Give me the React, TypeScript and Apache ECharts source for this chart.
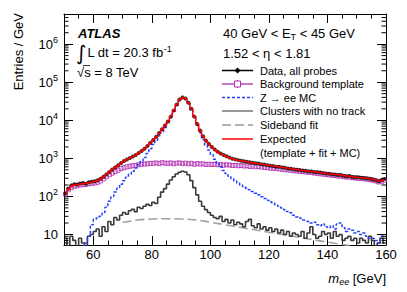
import React, { useEffect, useRef } from "react";
import * as echarts from "echarts";

// ---- data (entries / GeV), 1 GeV bins from 50 to 160 GeV ----
const binLow = 50;
const binCount = 110;
const binCenters = Array.from({ length: binCount }, (_, i) => binLow + 0.5 + i);

const dataValues = [
  120, 160, 195, 210, 205, 220, 225, 215, 235, 245,
  250, 265, 290, 330, 380, 440, 510, 580, 660, 760,
  850, 930, 1020, 1120, 1230, 1380, 1560, 1780, 2100, 2550,
  3050, 3700, 4650, 5800, 7300, 9300, 12500, 18000, 26000, 35000,
  40000, 37500, 29000, 20000, 12500, 8000, 5400, 3800, 2900, 2400,
  2000, 1700, 1500, 1350, 1230, 1130, 1050, 980, 940, 900,
  870, 840, 820, 790, 770, 740, 730, 705, 690, 665,
  640, 630, 605, 600, 580, 565, 545, 535, 520, 500,
  495, 480, 475, 455, 455, 435, 430, 425, 410, 400,
  395, 380, 378, 365, 368, 350, 340, 342, 325, 320,
  318, 308, 305, 298, 290, 280, 265, 250, 268, 285,
];

const templateValues = [
  115, 150, 170, 185, 190, 200, 205, 205, 215, 220,
  225, 235, 255, 290, 330, 370, 410, 450, 490, 540,
  570, 600, 620, 640, 650, 680, 700, 710, 720, 740,
  740, 760, 730, 770, 750, 740, 760, 720, 750, 760,
  730, 750, 720, 740, 700, 730, 710, 720, 690, 700,
  690, 700, 680, 690, 660, 680, 670, 650, 660, 640,
  650, 630, 640, 610, 620, 600, 610, 590, 580, 570,
  555, 550, 540, 530, 520, 505, 500, 485, 475, 465,
  455, 450, 440, 430, 425, 410, 405, 395, 385, 375,
  370, 360, 355, 345, 340, 330, 325, 320, 310, 305,
  300, 295, 290, 285, 275, 270, 255, 240, 250, 265,
];

const zmcValues = [
  3, 3, 4, 3, 4, 4, 5, 6, 9, 18,
  25, 27, 30, 38, 52, 75, 100, 130, 165, 210,
  260, 320, 380, 460, 560, 680, 830, 1050, 1350, 1800,
  2300, 3000, 3900, 5000, 6500, 8500, 11800, 17200, 25000, 34000,
  39000, 36500, 28000, 19000, 11800, 7300, 4700, 3100, 2200, 1650,
  1250, 950, 740, 590, 480, 400, 340, 290, 255, 225,
  200, 180, 165, 150, 135, 122, 110, 98, 88, 80,
  72, 66, 60, 55, 50, 45, 40, 37, 32, 29,
  27, 24, 23, 22, 20, 21, 18, 17, 19, 16,
  15, 17, 14, 19, 20, 15, 12, 14, 13, 11,
  12, 10, 11, 9, 8, 8, 7, 6, 9, 10,
];

const clustersValues = [
  8, 5, 9, 7, 4, 8, 6, 3, 9, 10,
  12, 14, 9, 16, 12, 22, 18, 28, 24, 32,
  38, 34, 42, 46, 40, 52, 48, 55, 62, 58,
  70, 65, 95, 130, 160, 210, 270, 330, 390, 430,
  460, 440, 370, 260, 170, 110, 75, 55, 45, 38,
  32, 28, 26, 30, 22, 25, 20, 24, 18, 21,
  19, 16, 22, 25, 17, 15, 19, 14, 16, 13,
  15, 12, 14, 11, 13, 10, 12, 9, 11, 10,
  9, 12, 8, 11, 16, 10, 8, 9, 12, 10,
  11, 8, 12, 9, 10, 7, 8, 9, 7, 8,
  6, 8, 7, 6, 9, 7, 5, 6, 8, 6,
];

const expectedValues = [
  118, 155, 185, 200, 205, 212, 218, 222, 230, 240,
  250, 262, 285, 328, 382, 445, 510, 580, 655, 750,
  840, 930, 1020, 1120, 1230, 1380, 1560, 1790, 2100, 2560,
  3050, 3700, 4600, 5800, 7300, 9300, 12500, 18000, 26000, 35000,
  40000, 37000, 29000, 20000, 12500, 8000, 5400, 3800, 2900, 2370,
  1960, 1680, 1480, 1330, 1220, 1120, 1040, 975, 930, 885,
  865, 830, 815, 780, 765, 735, 725, 700, 683, 662,
  640, 628, 610, 597, 580, 562, 550, 533, 518, 503,
  490, 481, 471, 460, 452, 440, 431, 421, 411, 400,
  391, 383, 375, 369, 364, 352, 343, 339, 328, 321,
  316, 310, 305, 299, 289, 282, 267, 253, 264, 279,
];

const sidebandX = [70, 72, 75, 80, 85, 90, 95, 100, 105, 110, 120, 130, 140, 150, 160];
const sidebandY = [21, 22, 24, 25.5, 26, 25.5, 24, 21, 18, 15.5, 11.5, 8.5, 6.3, 4.7, 3.5];

// axis ranges
const xMin = 50;
const xMax = 160;
const yMin = 5.3;
const yMax = 6.2e6;

// log minor tick positions (2..9 x 10^k) inside the y range
const yMinorTicks: number[] = [];
for (let e = 0; e <= 6; e++) {
  for (let m = 2; m <= 9; m++) {
    const v = m * Math.pow(10, e);
    if (v > yMin && v < yMax) yMinorTicks.push(v);
  }
}

const FONT = "Liberation Sans, Arial, Helvetica, sans-serif";
const MAGENTA = "#b02cb0";
const BLUE = "#2540ff";
const RED = "#ff0000";

const pair = (ys: number[]) => ys.map((y, i) => [binCenters[i], y]);

export default function App() {
  const ref = useRef<HTMLDivElement>(null);

  useEffect(() => {
    if (!ref.current) return;
    const chart = echarts.init(ref.current, undefined, { renderer: "svg" });

    const supRich = {
      b: { fontSize: 13, fontFamily: FONT, color: "#000", lineHeight: 13 },
      s: { fontSize: 9, fontFamily: FONT, color: "#000", lineHeight: 9, padding: [0, 0, 8, 0] },
    };

    const yLabelFormatter = (v: number) => {
      const e = Math.round(Math.log10(v));
      return e === 1 ? "{b|10}" : `{b|10}{s|${e}}`;
    };

    const baseX = {
      type: "value",
      min: xMin,
      max: xMax,
      splitNumber: 5,
      splitLine: { show: false },
      axisLine: { show: true, onZero: false, lineStyle: { color: "#000", width: 1 } },
      axisTick: { show: true, inside: true, length: 9, lineStyle: { color: "#000", width: 1 } },
      minorTick: { show: true, splitNumber: 4, length: 4.5, lineStyle: { color: "#000", width: 1 } },
    };
    const baseY = {
      type: "log",
      logBase: 10,
      min: yMin,
      max: yMax,
      splitLine: { show: false },
      minorTick: { show: false },
      axisLine: { show: true, onZero: false, lineStyle: { color: "#000", width: 1 } },
      axisTick: { show: true, inside: true, length: 9, lineStyle: { color: "#000", width: 1 } },
    };

    const legendRows = [
      { y: 70.5, label: "Data, all probes" },
      { y: 84, label: "Background template" },
      { y: 97.5, label: "Z \u2192 ee MC" },
      { y: 111, label: "Clusters with no track" },
      { y: 125, label: "Sideband fit" },
      { y: 139, label: "Expected" },
      { y: 152.5, label: "(template + fit + MC)" },
    ];
    const lx1 = 222;
    const lx2 = 253;
    const lmid = (lx1 + lx2) / 2;
    const ltx = 260;

    const txt = (x: number, y: number, text: string, size: number, extra: any = {}) => ({
      type: "text",
      x,
      y,
      silent: true,
      style: {
        text,
        fontSize: size,
        fontFamily: FONT,
        fill: "#000",
        textAlign: "left",
        align: "left",
        textVerticalAlign: "middle",
        verticalAlign: "middle",
        ...extra,
      },
    });
    const seg = (y: number, stroke: string, lineWidth: number, lineDash?: number[]) => ({
      type: "line",
      silent: true,
      shape: { x1: lx1, y1: y, x2: lx2, y2: y },
      style: { stroke, lineWidth, lineDash },
    });

    const graphics: any[] = [
      // legend texts
      ...legendRows.map((r) => txt(ltx, r.y, r.label, 11)),
      seg(legendRows[0].y, "#000", 1.5),
      {
        type: "polygon",
        silent: true,
        shape: { points: [[lmid, 67.5], [lmid + 3, 70.5], [lmid, 73.5], [lmid - 3, 70.5]] },
        style: { fill: "#000" },
      },
      seg(legendRows[1].y, MAGENTA, 1.3),
      {
        type: "line",
        silent: true,
        shape: { x1: lmid, y1: 80, x2: lmid, y2: 88 },
        style: { stroke: MAGENTA, lineWidth: 1 },
      },
      {
        type: "rect",
        silent: true,
        shape: { x: lmid - 3, y: 81, width: 6, height: 6 },
        style: { fill: "#fff", stroke: MAGENTA, lineWidth: 1 },
      },
      seg(legendRows[2].y, BLUE, 1.5, [3, 2]),
      seg(legendRows[3].y, "#777", 1.5),
      seg(legendRows[4].y, "#999", 1.5, [9, 4]),
      seg(legendRows[5].y, RED, 1.5),
      // header texts
      {
        type: "text",
        x: 223,
        y: 33,
        silent: true,
        style: {
          text: "{n|40 GeV < E}{u|T}{n| < 45 GeV}",
          textAlign: "left",
          align: "left",
          textVerticalAlign: "middle",
          verticalAlign: "middle",
          rich: {
            n: { fontSize: 13, fontFamily: FONT, fill: "#000", lineHeight: 13 },
            u: { fontSize: 9, fontFamily: FONT, fill: "#000", lineHeight: 9, padding: [8, 0, 0, 0] },
          },
        },
      },
      txt(223, 53, "1.52 < \u03b7 < 1.81", 13),
      // ATLAS block
      txt(78, 33, "ATLAS", 13, { fontWeight: "bold", fontStyle: "italic" }),
      {
        type: "text",
        x: 76,
        y: 52.5,
        silent: true,
        style: {
          text: "{i|\u222b}{n|L dt = 20.3 fb}{s|-1}",
          textAlign: "left",
          align: "left",
          textVerticalAlign: "middle",
          verticalAlign: "middle",
          rich: {
            i: { fontSize: 20, fontFamily: "DejaVu Sans, sans-serif", fill: "#000", lineHeight: 20, padding: [0, 1, 0, 0] },
            n: { fontSize: 13, fontFamily: FONT, fill: "#000", lineHeight: 13 },
            s: { fontSize: 9, fontFamily: FONT, fill: "#000", lineHeight: 9, padding: [0, 0, 8, 0] },
          },
        },
      },
      txt(77, 72.5, "\u221as = 8 TeV", 13),
      {
        type: "line",
        silent: true,
        shape: { x1: 83, y1: 65.5, x2: 90, y2: 65.5 },
        style: { stroke: "#000", lineWidth: 0.8 },
      },
      // axis titles
      {
        type: "text",
        x: 18,
        y: 13,
        rotation: Math.PI / 2,
        silent: true,
        style: {
          text: "Entries / GeV",
          fontSize: 13,
          fontFamily: FONT,
          fill: "#000",
          textAlign: "right",
          align: "right",
          textVerticalAlign: "middle",
          verticalAlign: "middle",
        },
      },
      {
        type: "text",
        x: 386,
        y: 278,
        silent: true,
        style: {
          text: "{m|m}{e|ee}{n| [GeV]}",
          textAlign: "right",
          align: "right",
          textVerticalAlign: "middle",
          verticalAlign: "middle",
          rich: {
            m: { fontSize: 13, fontFamily: FONT, fontStyle: "italic", fill: "#000", lineHeight: 13 },
            e: { fontSize: 9, fontFamily: FONT, fontStyle: "italic", fill: "#000", lineHeight: 9, padding: [7, 0, 0, 0] },
            n: { fontSize: 13, fontFamily: FONT, fill: "#000", lineHeight: 13 },
          },
        },
      },
    ];

    chart.setOption({
      animation: false,
      backgroundColor: "#fff",
      grid: { left: 64, right: 21, top: 14, bottom: 47 },
      xAxis: [
        {
          ...baseX,
          position: "bottom",
          axisLabel: {
            showMinLabel: false,
            fontSize: 13,
            fontFamily: FONT,
            color: "#000",
            margin: 3,
          },
        },
        { ...baseX, position: "top", axisLabel: { show: false } },
      ],
      yAxis: [
        {
          ...baseY,
          position: "left",
          axisLabel: {
            showMinLabel: false,
            showMaxLabel: false,
            margin: 6,
            formatter: yLabelFormatter,
            rich: supRich,
          },
        },
        { ...baseY, position: "right", axisLabel: { show: false } },
      ],
      series: [
        {
          name: "Sideband fit",
          type: "line",
          data: sidebandX.map((x, i) => [x, sidebandY[i]]),
          smooth: true,
          showSymbol: false,
          lineStyle: { color: "#a0a0a0", width: 1.6, type: [9, 4] },
          z: 2,
        },
        {
          name: "Clusters with no track",
          type: "line",
          step: "middle",
          data: pair(clustersValues),
          showSymbol: false,
          lineStyle: { color: "#3a3a3a", width: 1.6 },
          z: 3,
        },
        {
          name: "Background template",
          type: "scatter",
          data: pair(templateValues),
          symbol: "rect",
          symbolSize: 4,
          itemStyle: { color: "rgba(0,0,0,0)", borderColor: MAGENTA, borderWidth: 1 },
          z: 4,
        },
        {
          name: "Z \u2192 ee MC",
          type: "line",
          step: "middle",
          data: pair(zmcValues),
          showSymbol: false,
          lineStyle: { color: BLUE, width: 1.5, type: [3, 2] },
          z: 5,
        },
        {
          name: "Data, all probes",
          type: "scatter",
          data: pair(dataValues),
          symbol: "circle",
          symbolSize: 4,
          itemStyle: { color: "#000" },
          z: 6,
        },
        {
          name: "Expected",
          type: "line",
          step: "middle",
          data: pair(expectedValues),
          showSymbol: false,
          lineStyle: { color: RED, width: 1.5 },
          z: 7,
        },
        {
          name: "yMinorTicks",
          type: "custom",
          silent: true,
          clip: false,
          z: 10,
          data: yMinorTicks.map((v) => [xMin, v]),
          encode: { x: 0, y: 1 },
          renderItem: (params: any, api: any) => {
            const p = api.coord([api.value(0), api.value(1)]);
            const cs = params.coordSys;
            return {
              type: "group",
              children: [
                {
                  type: "line",
                  shape: { x1: cs.x, y1: p[1], x2: cs.x + 4.5, y2: p[1] },
                  style: { stroke: "#000", lineWidth: 1 },
                },
                {
                  type: "line",
                  shape: { x1: cs.x + cs.width, y1: p[1], x2: cs.x + cs.width - 4.5, y2: p[1] },
                  style: { stroke: "#000", lineWidth: 1 },
                },
              ],
            };
          },
        },
      ],
      graphic: { elements: graphics },
    });

    return () => chart.dispose();
  }, []);

  return (
    <div
      ref={ref}
      style={{ position: "absolute", left: 0, top: 0, width: 407, height: 292, background: "#fff" }}
    />
  );
}
